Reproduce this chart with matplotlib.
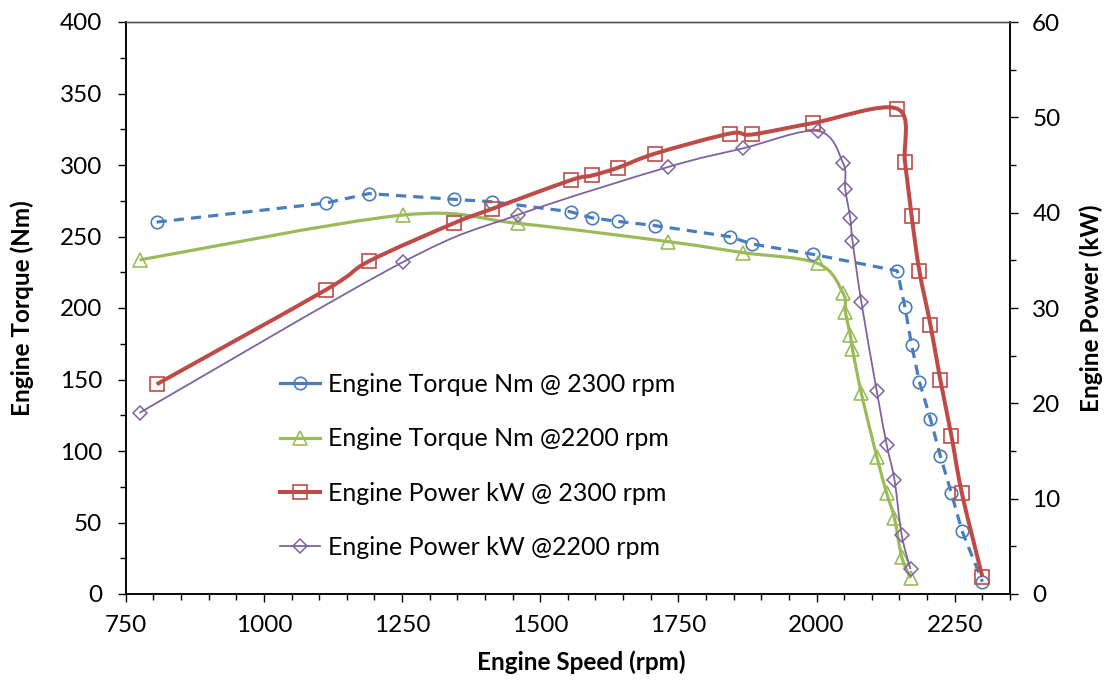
import numpy as np
import matplotlib
matplotlib.use('Agg')
import matplotlib.pyplot as plt
from matplotlib.path import Path
from matplotlib.patches import PathPatch
from matplotlib.lines import Line2D
from matplotlib.ticker import MultipleLocator

plt.rcParams['font.family'] = ['Lato', 'DejaVu Sans']

# data
rpm_2300 = [806, 1112, 1190, 1344, 1413, 1555, 1594, 1640, 1708, 1843, 1883, 1994,
            2146, 2160, 2172, 2186, 2206, 2224, 2244, 2263, 2300]
torque_2300 = [260.1, 273.4, 280.0, 276.0, 274.3, 267.3, 263.0, 260.6, 257.6, 249.9, 244.8, 237.5,
               226.0, 200.5, 174.0, 148.5, 122.4, 96.5, 70.4, 44.3, 8.6]
power_2300 = [22.0, 31.9, 34.9, 38.9, 40.4, 43.4, 43.9, 44.7, 46.2, 48.3, 48.2, 49.4,
              50.9, 45.3, 39.65, 33.9, 28.25, 22.45, 16.6, 10.56, 1.8]

rpm_2200 = [775, 1251, 1459, 1732, 1867, 2002, 2048, 2052, 2061, 2065, 2081, 2109,
            2127, 2141, 2154, 2170]
torque_2200 = [233.6, 265.0, 259.2, 246.4, 238.7, 231.2, 210.3, 197.4, 181.1, 171.1, 140.4, 96.0,
               70.4, 52.9, 26.0, 11.0]
power_2200 = [19.0, 34.8, 39.76, 44.8, 46.75, 48.57, 45.2, 42.45, 39.4, 37.06, 30.63, 21.26,
              15.63, 11.96, 6.19, 2.62]

labels = ['Engine Torque Nm @ 2300 rpm', 'Engine Torque Nm @2200 rpm',
          'Engine Power kW @ 2300 rpm', 'Engine Power kW @2200 rpm']

c_blue = '#4A7EBB'
c_green = '#9BBB59'
c_red = '#BE4B48'
c_purple = '#7F63A1'


def smooth_path(x, y):
    # excel style smoothed line: bezier segments, tangents from neighbours / 6
    p = np.column_stack([x, y]).astype(float)
    n = len(p)
    verts = [p[0]]
    codes = [Path.MOVETO]
    for i in range(n - 1):
        p0 = p[i - 1] if i > 0 else p[i]
        p3 = p[i + 2] if i + 2 < n else p[i + 1]
        c1 = p[i] + (p[i + 1] - p0) / 6.0
        c2 = p[i + 1] - (p3 - p[i]) / 6.0
        verts += [c1, c2, p[i + 1]]
        codes += [Path.CURVE4] * 3
    return Path(verts, codes)


fig = plt.figure(figsize=(11.08, 6.86), dpi=100)
ax = fig.add_axes([125.7 / 1108, 1 - 594 / 686, (1010 - 125.7) / 1108, (594 - 22) / 686])
ax2 = ax.twinx()

# torque @2300: dashed straight segments
ax.plot(rpm_2300, torque_2300, color=c_blue, lw=2.3, ls=(0, (3.2, 2.2)),
        marker='o', ms=9, mfc='none', mec=c_blue, mew=1.2)

# torque @2200: smoothed
ax.add_patch(PathPatch(smooth_path(rpm_2200, torque_2200), fill=False, ec=c_green, lw=2.3))
ax.plot(rpm_2200, torque_2200, ls='none', marker='^', ms=9.5, mfc='none', mec=c_green, mew=1.2)

# power on right axis
ax2.add_patch(PathPatch(smooth_path(rpm_2300, power_2300), fill=False, ec=c_red, lw=2.9))
ax2.plot(rpm_2300, power_2300, ls='none', marker='s', ms=9.5, mfc='none', mec=c_red, mew=1.2)

ax2.add_patch(PathPatch(smooth_path(rpm_2200, power_2200), fill=False, ec=c_purple, lw=1.3))
ax2.plot(rpm_2200, power_2200, ls='none', marker='D', ms=6.8, mfc='none', mec=c_purple, mew=1.1)

ax.set_xlim(750, 2350)
ax.set_ylim(0, 400)
ax2.set_ylim(0, 60)

ax.xaxis.set_major_locator(MultipleLocator(250))
ax.xaxis.set_minor_locator(MultipleLocator(50))
ax.yaxis.set_major_locator(MultipleLocator(50))
ax.yaxis.set_minor_locator(MultipleLocator(25))
ax2.yaxis.set_major_locator(MultipleLocator(10))
ax2.yaxis.set_minor_locator(MultipleLocator(5))

for a in (ax, ax2):
    a.tick_params(which='major', direction='out', length=6, width=1, labelsize=17.5, color='black')
    a.tick_params(which='minor', direction='out', length=4.5, width=1, color='black')
    for s in a.spines.values():
        s.set_linewidth(1.1)
        s.set_color('black')
    a.spines['top'].set_color('#555555')
    a.spines['top'].set_linewidth(1.0)
ax.tick_params(axis='x', which='major', pad=9)
ax.tick_params(axis='y', which='major', pad=11)
ax2.tick_params(axis='y', which='major', pad=10)
ax2.tick_params(axis='y', which='minor', right=True)
ax.tick_params(axis='x', which='both', top=False)
ax2.tick_params(axis='x', which='both', top=False, bottom=False)

fig.text(581 / 1108, 1 - 662 / 686, 'Engine Speed (rpm)', ha='center', va='center',
         fontsize=17.5, fontweight='bold')
fig.text(22 / 1108, 1 - 308 / 686, 'Engine Torque (Nm)', ha='center', va='center',
         rotation=90, fontsize=17.5, fontweight='bold')
fig.text(1091 / 1108, 1 - 308 / 686, 'Engine Power (kW)', ha='center', va='center',
         rotation=90, fontsize=17.5, fontweight='bold')

handles = [
    Line2D([], [], color=c_blue, lw=2.3, marker='o', ms=9, mfc='none', mew=1.2),
    Line2D([], [], color=c_green, lw=2.3, marker='^', ms=9.5, mfc='none', mew=1.2),
    Line2D([], [], color=c_red, lw=2.9, marker='s', ms=9.5, mfc='none', mew=1.2),
    Line2D([], [], color=c_purple, lw=1.3, marker='D', ms=6.8, mfc='none', mew=1.1),
]
leg = ax2.legend(handles, labels, loc='upper left',
                 bbox_to_anchor=((280 - 125.7) / (1010 - 125.7), (594 - 373) / (594 - 22)),
                 frameon=False, fontsize=18, numpoints=1, handlelength=1.6,
                 handletextpad=0.3, labelspacing=1.25, borderaxespad=0, borderpad=0)

fig.savefig('out.png', dpi=100)
